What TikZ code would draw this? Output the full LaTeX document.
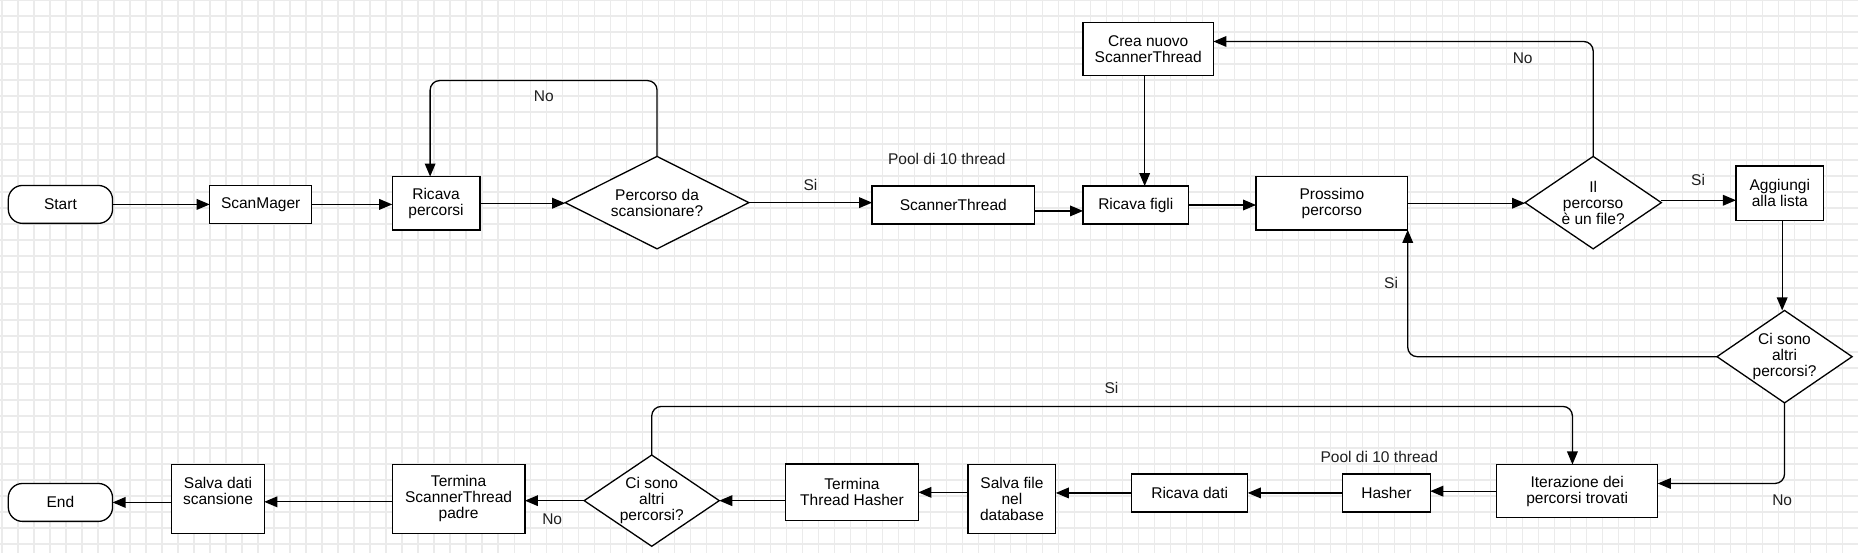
\documentclass[tikz,border=0pt]{standalone}
\usepackage{fontspec}
\setmainfont{Liberation Sans}
\usetikzlibrary{shapes.geometric,arrows.meta}
\begin{document}
\begin{tikzpicture}[x=1pt,y=-1pt,
  every node/.style={font=\fontsize{13.1}{13.5}\selectfont},
  box/.style={draw=black,line width=1.1pt,fill=white,align=center,inner sep=0pt,outer sep=0pt},
  term/.style={box,rounded corners=12pt},
  dia/.style={draw=black,line width=1.1pt,fill=white,diamond,inner sep=0pt,outer sep=0pt,shape aspect=1},
  arr/.style={draw=black,line width=1.1pt,-{Triangle[length=11pt,width=9pt]}},
  rc/.style={rounded corners=8pt},
  lbl/.style={text=black!88},
  gridline/.style={draw=black!8,line width=0.9pt}
]
\useasboundingbox (0,0) rectangle (1568,466.7);
\fill[white] (0,0) rectangle (1568,466.7);
% background grid
\foreach \i in {0,...,116} \draw[gridline] ({1.7+\i*13.503},0) -- ({1.7+\i*13.503},466.7);
\foreach \j in {0,...,34} \draw[gridline] (0,{\j*13.503}) -- (1568,{\j*13.503});

% nodes
\node[term, minimum width=88pt, minimum height=32pt] (start) at (51,172.5) {Start};
\node[box, minimum width=86pt, minimum height=32pt] (scanmager) at (220,172.5) {ScanMager};
\node[box, minimum width=74pt, minimum height=45pt] (ricava) at (368,171.5) {Ricava\\percorsi};
\node[dia, minimum width=155pt, minimum height=78pt,
  label={[align=center]center:{Percorso da\\scansionare?}}] (d1) at (554.5,171) {};
\node[box, minimum width=137pt, minimum height=32pt] (scanner) at (804.5,173) {ScannerThread};
\node[box, minimum width=89pt, minimum height=32pt] (figli) at (958.5,173) {Ricava figli};
\node[box, minimum width=110pt, minimum height=45pt] (crea) at (969,41.5) {Crea nuovo\\ScannerThread};
\node[box, minimum width=128pt, minimum height=45pt] (prossimo) at (1124,171.5) {Prossimo\\percorso};
\node[dia, minimum width=115pt, minimum height=78pt,
  label={[align=center]center:{Il\\percorso\\è un file?}}] (d2) at (1344.5,171) {};
\node[box, minimum width=74pt, minimum height=46pt] (aggiungi) at (1502,163) {Aggiungi\\alla lista};
\node[dia, minimum width=114pt, minimum height=78pt,
  label={[align=center]center:{Ci sono\\altri\\percorsi?}}] (d3) at (1506,301) {};
\node[box, minimum width=136pt, minimum height=45pt] (iter) at (1331,414.5) {Iterazione dei\\percorsi trovati};
\node[box, minimum width=74pt, minimum height=32pt] (hasher) at (1170,416) {Hasher};
\node[box, minimum width=98pt, minimum height=32pt] (rdati) at (1004,416) {Ricava dati};
\node[box, minimum width=74pt, minimum height=58pt] (salvafile) at (854,421) {Salva file\\nel\\database};
\node[box, minimum width=112pt, minimum height=48pt] (terminaH) at (719,415.5) {Termina\\Thread Hasher};
\node[dia, minimum width=114pt, minimum height=77pt,
  label={[align=center]center:{Ci sono\\altri\\percorsi?}}] (d4) at (550,422.5) {};
\node[box, minimum width=112pt, minimum height=58pt] (terminaS) at (387,421) {Termina\\ScannerThread\\padre};
\node[box, minimum width=78pt, minimum height=58pt,
  label={[align=center,yshift=7pt]center:{Salva dati\\scansione}}] (salvadati) at (184,421) {};
\node[term, minimum width=88pt, minimum height=32pt] (end) at (51,424) {End};

% free labels
\node[lbl] (lno1) at (459,81) {No};
\node[lbl] (lsi1) at (684,156) {Si};
\node[lbl] (lpool1) at (799,134) {Pool di 10 thread};
\node[lbl] (lno2) at (1285,49) {No};
\node[lbl] (lsi2) at (1433,152) {Si};
\node[lbl] (lsi3) at (1174,239) {Si};
\node[lbl] (lno3) at (1504,422) {No};
\node[lbl] (lpool2) at (1164,386) {Pool di 10 thread};
\node[lbl] (lsi4) at (938,327) {Si};
\node[lbl] (lno4) at (466,438) {No};

% connectors
\draw[arr] (start.east) -- (start.east -| scanmager.west);
\draw[arr] (scanmager.east) -- (scanmager.east -| ricava.west);
\draw[arr] (ricava.east) -- (ricava.east -| d1.west);
\draw[arr,rc] (d1.north) -- (d1.north |- 0,68) -- ([xshift=-5pt]ricava.north |- 0,68) -- ([xshift=-5pt]ricava.north);
\draw[arr] (d1.east) -- (d1.east -| scanner.west);
\draw[arr] ([yshift=-5pt]scanner.east) -- ([yshift=-5pt]figli.west);
\draw[arr] ([xshift=-3pt]crea.south) -- ([xshift=-3pt]crea.south |- figli.north);
\draw[arr] (figli.east) -- (figli.east -| prossimo.west);
\draw[arr] (prossimo.east) -- (prossimo.east -| d2.west);
\draw[arr,rc] (d2.north) |- ([yshift=6.5pt]crea.east);
\draw[arr] ([yshift=2pt]d2.east) -- ([yshift=2pt]d2.east -| aggiungi.west);
\draw[arr] ([xshift=2pt]aggiungi.south) -- ([xshift=2pt]aggiungi.south |- d3.north);
\draw[arr,rc] (d3.west) -| (prossimo.south east);
\draw[arr,rc] (d3.south) |- ([yshift=6.5pt]iter.east);
\draw[arr] (iter.west) -- (iter.west -| hasher.east);
\draw[arr] (hasher.west) -- (hasher.west -| rdati.east);
\draw[arr] (rdati.west) -- (rdati.west -| salvafile.east);
\draw[arr] (terminaH.east -| salvafile.west) -- (terminaH.east);
\draw[arr] (d4.east -| terminaH.west) -- (d4.east);
\draw[arr,rc] (d4.north) -- (d4.north |- 0,343) -- ([xshift=-4pt]iter.north |- 0,343) -- ([xshift=-4pt]iter.north);
\draw[arr] (d4.west) -- (d4.west -| terminaS.east);
\draw[arr] ([yshift=-2.5pt]terminaS.west) -- ([yshift=-2.5pt]salvadati.east);
\draw[arr] (end.east -| salvadati.west) -- (end.east);
\end{tikzpicture}
\end{document}
